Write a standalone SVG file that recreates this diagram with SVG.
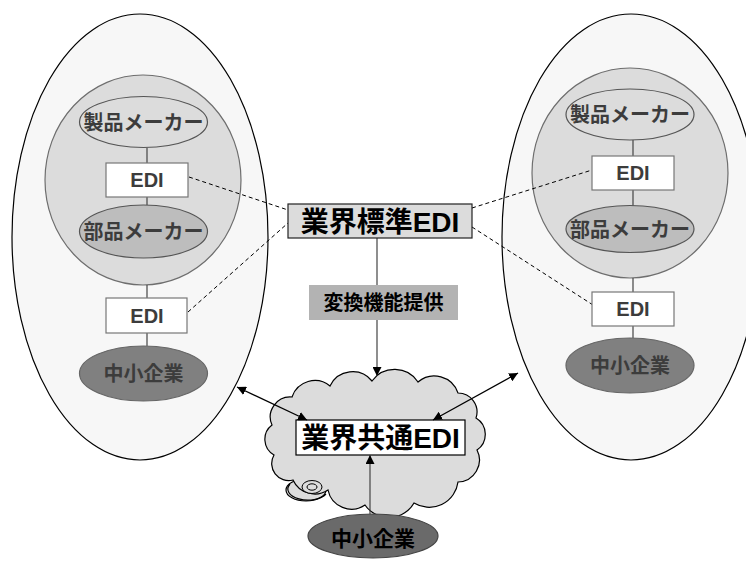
<svg xmlns="http://www.w3.org/2000/svg" width="746" height="562" viewBox="0 0 746 562">
<defs>
<marker id="ah" viewBox="0 0 10 10" refX="10" refY="5" markerWidth="9" markerHeight="9" markerUnits="userSpaceOnUse" orient="auto-start-reverse">
<path d="M0,0 L10,5 L0,10 z" fill="#000"/>
</marker>
<style>
.big{fill:#f7f7f7;stroke:#000;stroke-width:1.2}
.inner{fill:#dcdcdc;stroke:#6e6e6e;stroke-width:1.2}
.maker{fill:#dcdcdc;stroke:#555;stroke-width:1.2}
.parts{fill:#bdbdbd;stroke:#555;stroke-width:1.2}
.sme{fill:#808080;stroke:#666;stroke-width:1.2}
.edi{fill:#fff;stroke:#777;stroke-width:1.2}
.t{font-family:"Liberation Sans","Noto Sans CJK JP",sans-serif;font-weight:bold;text-anchor:middle;dominant-baseline:central}
.tg{fill:#3c3c3c;font-size:20px}
.te{fill:#3c3c3c;font-size:20px}
.tl{fill:#000;font-size:28px}
.line{stroke:#444;stroke-width:1.2;fill:none}
.dash{stroke:#000;stroke-width:1;stroke-dasharray:4 3;fill:none}
.arr{stroke:#000;stroke-width:1.3;fill:none}
</style>
</defs>

<g id="left-group">
<ellipse class="big" cx="140" cy="237" rx="128" ry="223"/>
<ellipse class="inner" cx="143" cy="180" rx="98" ry="105"/>
</g>
<g id="right-group">
<ellipse class="big" cx="631" cy="237" rx="129" ry="223"/>
<ellipse class="inner" cx="630" cy="173" rx="98" ry="105"/>
</g>

<g id="connectors">
<line class="line" x1="147" y1="148" x2="147" y2="163"/>
<line class="line" x1="147" y1="197" x2="147" y2="205"/>
<line class="line" x1="147" y1="285" x2="147" y2="298"/>
<line class="line" x1="147" y1="333" x2="147" y2="346"/>
<line class="line" x1="633" y1="140" x2="633" y2="156"/>
<line class="line" x1="633" y1="190" x2="633" y2="206"/>
<line class="line" x1="633" y1="278" x2="633" y2="292"/>
<line class="line" x1="633" y1="326" x2="633" y2="338"/>
<line class="dash" x1="189" y1="177" x2="288" y2="210"/>
<line class="dash" x1="188" y1="312" x2="288" y2="223"/>
<line class="dash" x1="472" y1="208" x2="592" y2="170"/>
<line class="dash" x1="472" y1="227" x2="593" y2="305"/>
<line class="line" x1="377" y1="238" x2="377" y2="285"/>
</g>

<g id="maker-left">
<ellipse class="maker" cx="143.5" cy="122" rx="64" ry="25.5"/>
<text class="t tg" x="143.5" y="123">製品メーカー</text>
</g>
<g id="edi-left-1">
<rect class="edi" x="106" y="163" width="82" height="34"/>
<text class="t te" x="147" y="180">EDI</text>
</g>
<g id="parts-left">
<ellipse class="parts" cx="143.5" cy="231.5" rx="64" ry="26.5"/>
<text class="t tg" x="143.5" y="232">部品メーカー</text>
</g>
<g id="edi-left-2">
<rect class="edi" x="106" y="298" width="81" height="35"/>
<text class="t te" x="147" y="315.5">EDI</text>
</g>
<g id="sme-left">
<ellipse class="sme" cx="143.5" cy="373.5" rx="64" ry="27.5"/>
<text class="t te" x="143.5" y="374">中小企業</text>
</g>

<g id="maker-right">
<ellipse class="maker" cx="630" cy="114.5" rx="64" ry="25.5"/>
<text class="t tg" x="630" y="115">製品メーカー</text>
</g>
<g id="edi-right-1">
<rect class="edi" x="592" y="156" width="82" height="34"/>
<text class="t te" x="633" y="173">EDI</text>
</g>
<g id="parts-right">
<ellipse class="parts" cx="630" cy="229" rx="64" ry="23.5"/>
<text class="t tg" x="630" y="229.5">部品メーカー</text>
</g>
<g id="edi-right-2">
<rect class="edi" x="592" y="292" width="82" height="34"/>
<text class="t te" x="633" y="309">EDI</text>
</g>
<g id="sme-right">
<ellipse class="sme" cx="630" cy="365.5" rx="64" ry="27.5"/>
<text class="t te" x="630" y="366">中小企業</text>
</g>

<g id="standard-edi">
<rect x="288" y="204" width="184" height="34" fill="#dcdcdc" stroke="#222" stroke-width="1.2"/>
<text class="t tl" x="380" y="222">業界標準EDI</text>
</g>

<g id="conversion">
<rect x="309" y="285" width="149" height="35" fill="#b3b3b3"/>
<text class="t" x="383.5" y="303" font-size="20" fill="#000">変換機能提供</text>
</g>

<g id="cloud">
<ellipse cx="306" cy="490" rx="20" ry="11" fill="#dcdcdc" stroke="#000" stroke-width="1.2"/>
<path d="M272,425 A20,20 0 0 1 292,397 A24,24 0 0 1 330,386 A25,25 0 0 1 372,381 A28,28 0 0 1 418,382 A25,25 0 0 1 458,393 A19,19 0 0 1 476,418 A19,19 0 0 1 477,450 A22,22 0 0 1 458,482 A29,29 0 0 1 414,503 A29,29 0 0 1 365,505 A24,24 0 0 1 328,490 A24,24 0 0 1 293,480 A17,17 0 0 1 274,455 A18,18 0 0 1 272,425 Z" fill="#dcdcdc" stroke="#000" stroke-width="1.2"/>
<path d="M290,484 A20,11 0 0 0 326,494" fill="none" stroke="#000" stroke-width="1.2"/>
<ellipse cx="312" cy="487" rx="10" ry="6.5" fill="#dcdcdc" stroke="#000" stroke-width="1"/>
<ellipse cx="312" cy="487" rx="5" ry="3.2" fill="#dcdcdc" stroke="#000" stroke-width="1"/>
</g>

<g id="common-edi">
<rect x="296" y="420" width="169" height="35" fill="#fff" stroke="#000" stroke-width="1.2"/>
<text class="t tl" x="380.5" y="438">業界共通EDI</text>
</g>

<g id="sme-bottom">
<ellipse cx="373" cy="536" rx="65" ry="22" fill="#6a6a6a" stroke="#444" stroke-width="1.2"/>
<text class="t" x="373" y="538" font-size="21" fill="#000">中小企業</text>
</g>

<g id="arrows">
<line class="line" x1="377" y1="320" x2="377" y2="376" marker-end="url(#ah)"/>
<line class="arr" x1="237" y1="387" x2="307" y2="420" marker-start="url(#ah)" marker-end="url(#ah)"/>
<line class="arr" x1="433" y1="420" x2="518" y2="373" marker-start="url(#ah)" marker-end="url(#ah)"/>
<line class="line" x1="370" y1="514" x2="370" y2="455" marker-end="url(#ah)"/>
</g>
</svg>
